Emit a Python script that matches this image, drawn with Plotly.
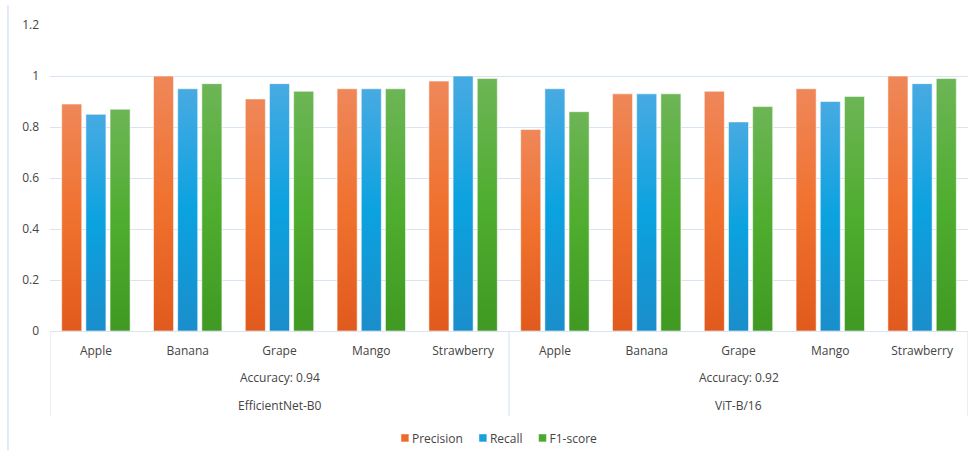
import plotly.graph_objects as go

# Per-class metrics for the two models
models = ["EfficientNet-B0", "ViT-B/16"]
accuracy_labels = ["Accuracy: 0.94", "Accuracy: 0.92"]
fruits = ["Apple", "Banana", "Grape", "Mango", "Strawberry"]

precision_effnet = [0.89, 1.00, 0.91, 0.95, 0.98]
recall_effnet = [0.85, 0.95, 0.97, 0.95, 1.00]
f1_effnet = [0.87, 0.97, 0.94, 0.95, 0.99]

precision_vit = [0.79, 0.93, 0.94, 0.95, 1.00]
recall_vit = [0.95, 0.93, 0.82, 0.90, 0.97]
f1_vit = [0.86, 0.93, 0.88, 0.92, 0.99]

y_ticks = [0, 0.2, 0.4, 0.6, 0.8, 1.0, 1.2]
y_tick_text = ["0", "0.2", "0.4", "0.6", "0.8", "1", "1.2"]

# unique category keys, one per (model, fruit) pair
cats = [f"{m}|{f}" for m in models for f in fruits]
cat_text = fruits + fruits

series = [
    ("Precision", precision_effnet + precision_vit, "#EC6A2A"),
    ("Recall", recall_effnet + recall_vit, "#17A0DC"),
    ("F1-score", f1_effnet + f1_vit, "#4CA92F"),
]

TEXT = "#444444"
GRID = "#D9E4F3"
FONT = "Open Sans, Noto Sans, sans-serif"

fig = go.Figure()
for name, vals, col in series:
    fig.add_trace(go.Bar(
        x=cats, y=vals, name=name,
        marker=dict(color=col, line=dict(color="rgba(255,255,255,0.55)", width=1)),
    ))

fig.update_layout(
    width=974, height=457,
    margin=dict(l=50, r=6, t=25, b=125),
    paper_bgcolor="white", plot_bgcolor="white",
    barmode="group", bargap=0.21, bargroupgap=0.17,
    font=dict(family=FONT, size=12, color=TEXT),
    showlegend=True,
    legend=dict(orientation="h", x=0.49, xanchor="center", y=-0.345, yanchor="middle",
                font=dict(size=12, color=TEXT), itemwidth=30, traceorder="normal"),
)

fig.update_yaxes(
    range=[0, 1.2], tickvals=y_ticks, ticktext=y_tick_text,
    showgrid=True, gridcolor=GRID, gridwidth=1.2,
    zeroline=False, showline=False, ticks="",
    ticklabelstandoff=10, tickfont=dict(size=12, color=TEXT),
)
fig.update_xaxes(
    type="category", categoryorder="array", categoryarray=cats,
    tickvals=cats, ticktext=cat_text,
    range=[-0.5, len(cats) - 0.5],
    showline=True, linecolor=GRID, linewidth=1.2,
    showgrid=False, ticks="", ticklabelstandoff=8,
    tickfont=dict(size=12, color=TEXT),
)

# group dividers of the category axis
n = len(fruits)
for xb in [-0.5, n - 0.5, 2 * n - 0.5]:
    fig.add_shape(type="line", xref="x", yref="paper", x0=xb, x1=xb, y0=0, y1=-0.277,
                  line=dict(color=GRID, width=1.2))

# second and third label rows
for i, (acc, model) in enumerate(zip(accuracy_labels, models)):
    cx = i * n + (n - 1) / 2
    fig.add_annotation(x=cx, xref="x", y=-0.153, yref="paper", text=acc, showarrow=False,
                       font=dict(size=12, color=TEXT), yanchor="middle")
    fig.add_annotation(x=cx, xref="x", y=-0.245, yref="paper", text=model, showarrow=False,
                       font=dict(size=12, color=TEXT), yanchor="middle")

# chart-area edge on the left
fig.add_shape(type="line", xref="paper", yref="paper", x0=-0.0458, x1=-0.0458, y0=1.065, y1=-0.39,
              line=dict(color=GRID, width=1.5))

# vertical gradient fill for each bar series, plus a compact legend layout
post = """
var gd = document.getElementById('{plot_id}');
var svg = gd.querySelector('.main-svg');
var ns = 'http://www.w3.org/2000/svg';
var defs = svg.querySelector('defs') || svg.insertBefore(document.createElementNS(ns, 'defs'), svg.firstChild);
var stops = [
  ['#EF8759', '#F0712E', '#E15A1D'],
  ['#48AAE2', '#0BA2E0', '#1A8ECB'],
  ['#6DB556', '#4FAD2F', '#3F9922']
];
stops.forEach(function(s, k) {
  var lg = document.createElementNS(ns, 'linearGradient');
  lg.setAttribute('id', 'barfill' + k);
  lg.setAttribute('x1', '0'); lg.setAttribute('y1', '0');
  lg.setAttribute('x2', '0'); lg.setAttribute('y2', '1');
  [[0, s[0]], [0.5, s[1]], [1, s[2]]].forEach(function(p) {
    var st = document.createElementNS(ns, 'stop');
    st.setAttribute('offset', p[0]);
    st.setAttribute('stop-color', p[1]);
    lg.appendChild(st);
  });
  defs.appendChild(lg);
});
var traces = gd.querySelectorAll('.barlayer .trace');
traces.forEach(function(t, k) {
  t.querySelectorAll('path').forEach(function(p) { p.style.fill = 'url(#barfill' + k + ')'; });
});

// legend: small squares right next to the labels, even spacing
var items = gd.querySelectorAll('.legend .traces');
var info = [];
items.forEach(function(it) {
  var txt = it.querySelector('text.legendtext');
  var p = it.querySelector('.legendpoints path');
  if (!txt || !p) return;
  p.setAttribute('d', 'M4,4H-4V-4H4Z');
  var tr = txt.getBoundingClientRect();
  var sr = p.getBoundingClientRect();
  var dx = (tr.left - 3) - sr.right;
  p.setAttribute('transform', (p.getAttribute('transform') || '') + ' translate(' + dx + ',0)');
  var left = tr.left - 11;
  info.push({el: it, left: left, width: tr.right - left});
});
var gap = 16;
var total = info.reduce(function(a, o) { return a + o.width; }, 0) + gap * (info.length - 1);
var cur = 499 - total / 2;
var base = gd.getBoundingClientRect().left;
info.forEach(function(o) {
  var shift = (cur + base) - o.left;
  var t = o.el.getAttribute('transform') || 'translate(0,0)';
  var m = /translate\\(([-0-9.e]+)[ ,]*([-0-9.e]*)\\)/.exec(t);
  var tx = m ? parseFloat(m[1]) : 0;
  var ty = m && m[2] ? parseFloat(m[2]) : 0;
  o.el.setAttribute('transform', 'translate(' + (tx + shift) + ',' + ty + ')');
  cur += o.width + gap;
});
"""

fig.write_html("out.html", post_script=post)
